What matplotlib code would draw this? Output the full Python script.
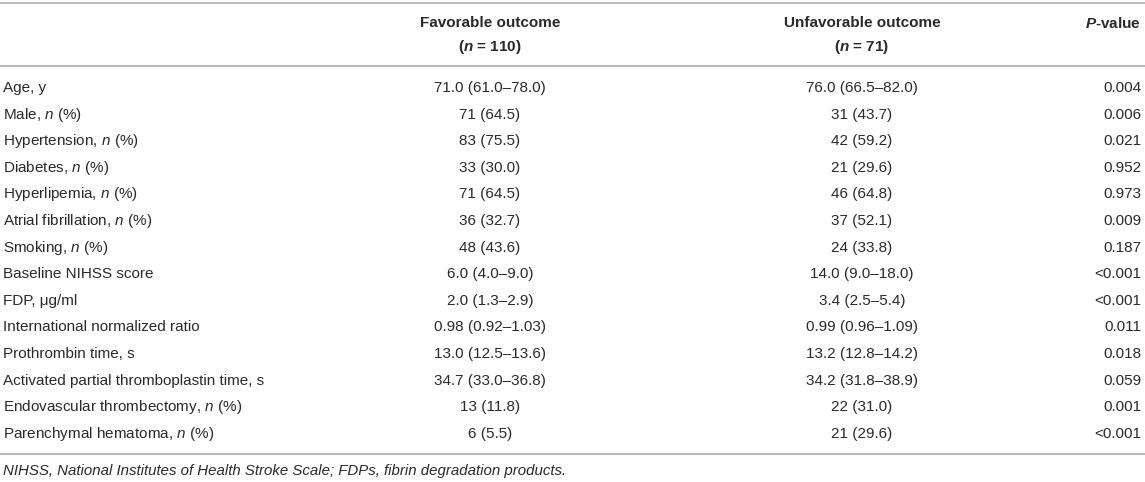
import matplotlib.pyplot as plt

plt.rcParams["font.family"] = ["Liberation Sans", "DejaVu Sans"]
plt.rcParams["mathtext.fontset"] = "custom"
plt.rcParams["mathtext.rm"] = "Liberation Sans"
plt.rcParams["mathtext.it"] = "Liberation Sans:italic"
plt.rcParams["mathtext.bf"] = "Liberation Sans:bold"
plt.rcParams["mathtext.bfit"] = "Liberation Sans:bold:italic"

# table content
header_top = ["Favorable outcome", "Unfavorable outcome", "$\\mathbfit{P}$-value"]
header_sub = ["($\\mathbfit{n}$ = 110)", "($\\mathbfit{n}$ = 71)", ""]
labels = [
    "Age, y",
    "Male, $\\mathit{n}$ (%)",
    "Hypertension, $\\mathit{n}$ (%)",
    "Diabetes, $\\mathit{n}$ (%)",
    "Hyperlipemia, $\\mathit{n}$ (%)",
    "Atrial fibrillation, $\\mathit{n}$ (%)",
    "Smoking, $\\mathit{n}$ (%)",
    "Baseline NIHSS score",
    "FDP, \u03bcg/ml",
    "International normalized ratio",
    "Prothrombin time, s",
    "Activated partial thromboplastin time, s",
    "Endovascular thrombectomy, $\\mathit{n}$ (%)",
    "Parenchymal hematoma, $\\mathit{n}$ (%)",
]
favorable = ["71.0 (61.0–78.0)", "71 (64.5)", "83 (75.5)", "33 (30.0)", "71 (64.5)",
             "36 (32.7)", "48 (43.6)", "6.0 (4.0–9.0)", "2.0 (1.3–2.9)",
             "0.98 (0.92–1.03)", "13.0 (12.5–13.6)", "34.7 (33.0–36.8)",
             "13 (11.8)", "6 (5.5)"]
unfavorable = ["76.0 (66.5–82.0)", "31 (43.7)", "42 (59.2)", "21 (29.6)", "46 (64.8)",
               "37 (52.1)", "24 (33.8)", "14.0 (9.0–18.0)", "3.4 (2.5–5.4)",
               "0.99 (0.96–1.09)", "13.2 (12.8–14.2)", "34.2 (31.8–38.9)",
               "22 (31.0)", "21 (29.6)"]
p_values = ["0.004", "0.006", "0.021", "0.952", "0.973", "0.009", "0.187",
            "<0.001", "<0.001", "0.011", "0.018", "0.059", "0.001", "<0.001"]
footnote = "NIHSS, National Institutes of Health Stroke Scale; FDPs, fibrin degradation products."

W, H = 1145, 482
fig = plt.figure(figsize=(W / 100, H / 100), dpi=100)
ax = fig.add_axes([0, 0, 1, 1])
ax.set_xlim(0, W)
ax.set_ylim(H, 0)
ax.axis("off")

txt = "#2a2a2a"
fs = 11
line_col = "#a6a6a6"
x_label, x_fav, x_unfav, x_p = 3, 490, 862, 1141
row0, row_h = 88, 26.6

# rules
for y in [3, 66, 454]:
    ax.plot([0, W], [y, y], color=line_col, lw=1.1, solid_capstyle="butt")

# header
for xc, top, sub, ha in zip([x_fav, x_unfav, x_p], header_top, header_sub,
                            ["center", "center", "right"]):
    ax.text(xc, 23, top, ha=ha, va="center", fontsize=fs, fontweight="bold", color=txt)
    if sub:
        ax.text(xc, 47, sub, ha=ha, va="center", fontsize=fs, fontweight="bold", color=txt)

# body
for i, lab in enumerate(labels):
    y = row0 + i * row_h
    ax.text(x_label, y, lab, ha="left", va="center", fontsize=fs, color=txt)
    ax.text(x_fav, y, favorable[i], ha="center", va="center", fontsize=fs, color=txt)
    ax.text(x_unfav, y, unfavorable[i], ha="center", va="center", fontsize=fs, color=txt)
    ax.text(x_p, y, p_values[i], ha="right", va="center", fontsize=fs, color=txt)

ax.text(x_label, 471, footnote, ha="left", va="center", fontsize=10.8,
        style="italic", color=txt)

fig.savefig("out.png", dpi=100)
